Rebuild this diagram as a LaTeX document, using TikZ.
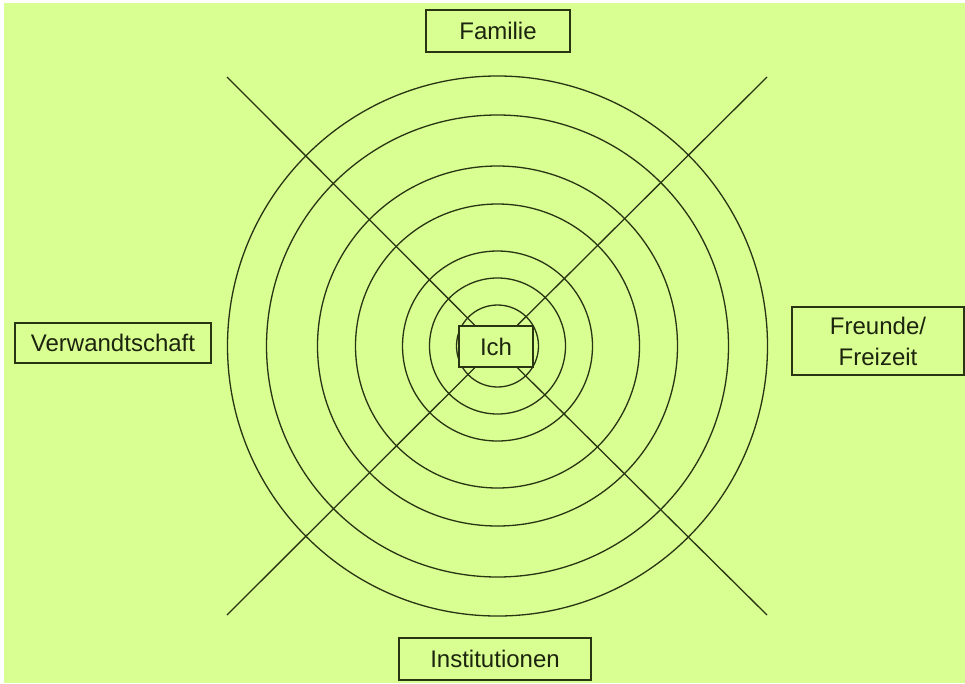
\documentclass[tikz,border=0pt]{standalone}
\usepackage{fontspec}
\setmainfont{Liberation Sans}
\definecolor{bggreen}{RGB}{217,254,146}
\definecolor{inkline}{RGB}{40,52,18}
\definecolor{inktext}{RGB}{28,36,14}
\tikzset{
  label box/.style={draw=inkline, line width=1.4pt, text=inktext,
    font=\fontsize{24}{31}\selectfont, inner sep=0pt, align=center},
  ring/.style={draw=inkline, line width=1.3pt},
  spoke/.style={draw=inkline, line width=1.3pt}
}
\begin{document}
\begin{tikzpicture}[x=1pt,y=-1pt]
  % Background
  \useasboundingbox (0,0) rectangle (965,683);
  \fill[bggreen] (4,3) rectangle (965,683);

  % Rings
  \foreach \r in {270,231,180,142,95,68,41}
    \draw[ring] (497.5,346) circle (\r);

  % Centre
  \node[label box, minimum width=74pt, minimum height=41pt, fill=bggreen] (ich) at (496,346.5) {Ich};

  % Spokes
  \coordinate (nw) at (227,77);
  \coordinate (ne) at (767,77);
  \coordinate (sw) at (227,615);
  \coordinate (se) at (767,615);
  \foreach \c in {nw,ne,sw,se}
    \draw[spoke] (\c) -- (ich);

  % Labels
  \node[label box, minimum width=144pt, minimum height=42pt] (familie) at (498,31) {Familie};
  \node[label box, minimum width=196pt, minimum height=40pt] (verwandt) at (113,343) {Verwandtschaft};
  \node[label box, minimum width=192pt, minimum height=42pt] (inst) at (495,659) {Institutionen};
  \node[label box, minimum width=172pt, minimum height=68pt] (freunde) at (878,341) {Freunde/\\Freizeit};
\end{tikzpicture}
\end{document}
